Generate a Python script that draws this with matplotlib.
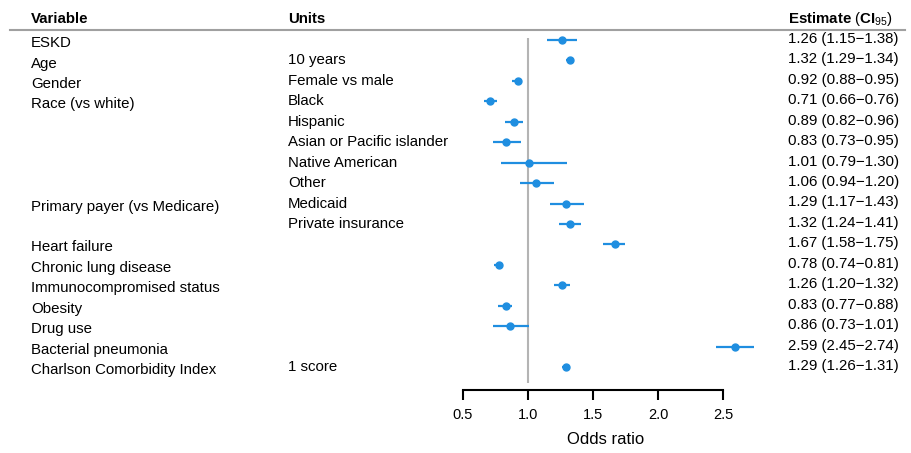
import matplotlib
matplotlib.use("Agg")
import matplotlib.pyplot as plt
import matplotlib.transforms as mtransforms
import numpy as np

plt.rcParams["font.family"] = ["Liberation Sans", "DejaVu Sans"]
plt.rcParams["mathtext.fontset"] = "custom"
plt.rcParams["mathtext.rm"] = "Liberation Sans"
plt.rcParams["mathtext.bf"] = "Liberation Sans:bold"

variables = ["ESKD", "Age", "Gender", "Race (vs white)", "", "", "", "",
             "Primary payer (vs Medicare)", "", "Heart failure", "Chronic lung disease",
             "Immunocompromised status", "Obesity", "Drug use", "Bacterial pneumonia",
             "Charlson Comorbidity Index"]
units = ["", "10 years", "Female vs male", "Black", "Hispanic", "Asian or Pacific islander",
         "Native American", "Other", "Medicaid", "Private insurance", "", "", "", "", "", "",
         "1 score"]
odds = [1.26, 1.32, 0.92, 0.71, 0.89, 0.83, 1.01, 1.06, 1.29, 1.32, 1.67, 0.78, 1.26, 0.83, 0.86, 2.59, 1.29]
ci_lo = [1.15, 1.29, 0.88, 0.66, 0.82, 0.73, 0.79, 0.94, 1.17, 1.24, 1.58, 0.74, 1.20, 0.77, 0.73, 2.45, 1.26]
ci_hi = [1.38, 1.34, 0.95, 0.76, 0.96, 0.95, 1.30, 1.20, 1.43, 1.41, 1.75, 0.81, 1.32, 0.88, 1.01, 2.74, 1.31]
xticks = [0.5, 1.0, 1.5, 2.0, 2.5]

W, H = 912, 453
BLUE = "#1f8ee0"
GRAY = "#b4b4b4"
FS = 10.8

fig = plt.figure(figsize=(W / 100, H / 100), dpi=100)

# plot region in pixels: x 0.3 -> 437px, 2.9 -> 775px ; rows 0 -> 40px, step 20.44px
row_px0, row_step = 40.0, 20.44
top_px, bot_px = 25.0, 390.0
left_px, right_px = 437.0, 775.0
ax = fig.add_axes([left_px / W, 1 - bot_px / H, (right_px - left_px) / W, (bot_px - top_px) / H])
ax.set_xlim(0.3, 2.9)
ax.set_ylim((bot_px - row_px0) / row_step, (top_px - row_px0) / row_step)
ax.patch.set_alpha(0)

rows = np.arange(len(odds))
ax.vlines(1.0, -0.1, (383 - row_px0) / row_step, color=GRAY, lw=1.5, zorder=1)
ax.hlines(rows, ci_lo, ci_hi, color=BLUE, lw=1.6, zorder=2)
ax.plot(odds, rows, "o", color=BLUE, ms=5, zorder=3)

for s in ["top", "right", "left"]:
    ax.spines[s].set_visible(False)
ax.spines["bottom"].set_bounds(0.5, 2.5)
ax.spines["bottom"].set_linewidth(1.5)
ax.set_yticks([])
ax.set_xticks(xticks)
ax.set_xticklabels([f"{t:.1f}" for t in xticks])
ax.tick_params(axis="x", length=7, width=1.5, pad=6, labelsize=10.5)
ax.set_xlabel("Odds ratio", fontsize=12, labelpad=7)

# text columns: x in figure fraction, y in data rows
tr = mtransforms.blended_transform_factory(fig.transFigure, ax.transData)
for i in rows:
    if variables[i]:
        ax.text(31 / W, i + 0.15, variables[i], transform=tr, ha="left", va="center", fontsize=FS)
    if units[i]:
        ax.text(288 / W, i, units[i], transform=tr, ha="left", va="center", fontsize=FS)
    est = f"{odds[i]:.2f} ({ci_lo[i]:.2f}\u2212{ci_hi[i]:.2f})"
    ax.text(788 / W, i - 0.05, est, transform=tr, ha="left", va="center", fontsize=FS)

# header
fig.text(31 / W, 1 - 19 / H, "Variable", ha="left", va="center", fontsize=FS, fontweight="bold")
fig.text(288 / W, 1 - 19 / H, "Units", ha="left", va="center", fontsize=FS, fontweight="bold")
fig.text(788 / W, 1 - 19 / H, r"$\mathbf{Estimate}$ ($\mathbf{CI}_{95}$)", ha="left", va="center", fontsize=FS)
fig.add_artist(plt.Line2D([10 / W, 905 / W], [1 - 30 / H, 1 - 30 / H], color="#a0a0a0", lw=1.5,
                          transform=fig.transFigure))

fig.savefig("out.png", dpi=100, facecolor="white")
